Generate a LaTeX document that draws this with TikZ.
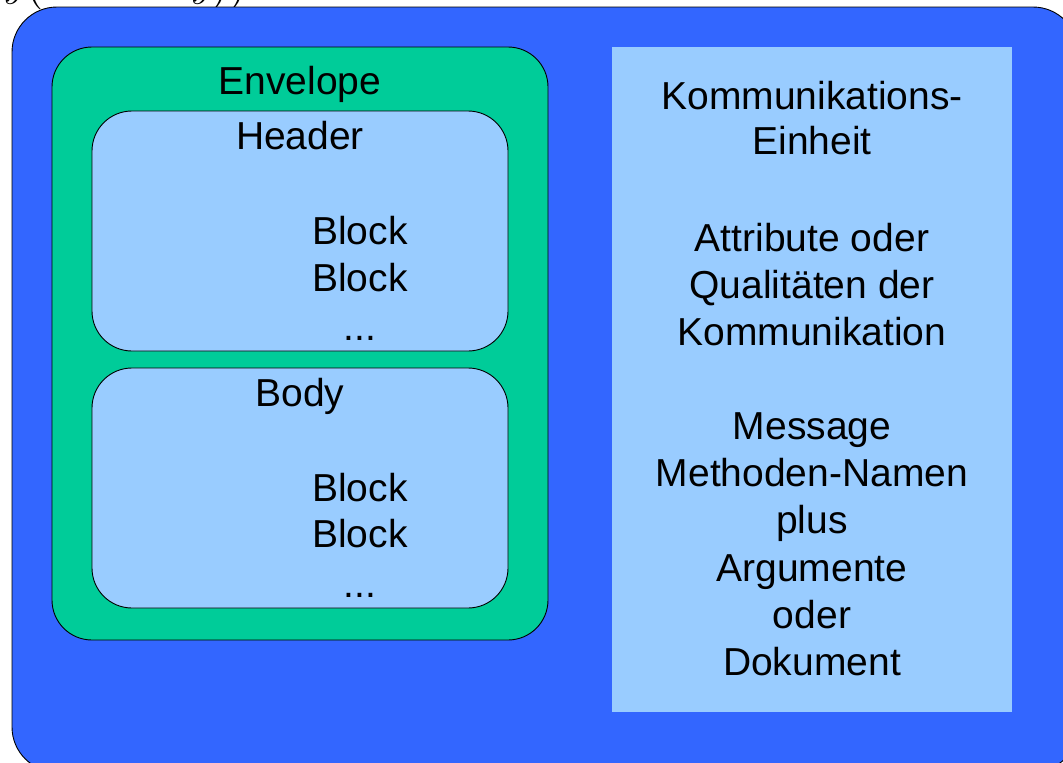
\documentclass[tikz,border=0pt]{standalone}
\usepackage{fontspec}
\setmainfont{Liberation Sans}
\definecolor{outerblue}{HTML}{3366FF}
\definecolor{envgreen}{HTML}{00CC99}
\definecolor{lightblue}{HTML}{99CCFF}
\tikzset{
  box/.style={draw=black, line width=0.9pt},
  txt/.style={anchor=base, inner sep=0pt, font=\fontsize{39}{47}\selectfont},
}
\begin{document}
\begin{tikzpicture}[x=1pt,y=-1pt]
\useasboundingbox (0,0) rectangle (1063,763);
\clip (0,0) rectangle (1063,763);
% clipped formula fragment at top
\node[anchor=base west, inner sep=0pt, scale=4] (frag) at (3,-4) {$y\bigl(\hspace{37pt}y\bigr)\bigr)$};
% outer box
\filldraw[box, fill=outerblue, rounded corners=45] (12,7) rectangle (1078,772);
% envelope
\filldraw[box, fill=envgreen, rounded corners=40] (52,47) rectangle (548,640);
\node[txt] (envelope) at (300,94) {Envelope};
% header
\filldraw[box, fill=lightblue, rounded corners=40] (92,111) rectangle (508,351);
\node[txt] (header) at (300,149) {Header};
\node[txt] (hb1) at (360,244) {Block};
\node[txt] (hb2) at (360,291) {Block};
\node[txt] (hb3) at (360,340) {...};
% body
\filldraw[box, fill=lightblue, rounded corners=40] (92,368) rectangle (508,608);
\node[txt] (body) at (300,406) {Body};
\node[txt] (bb1) at (360,501) {Block};
\node[txt] (bb2) at (360,547) {Block};
\node[txt] (bb3) at (360,597) {...};
% right panel
\fill[lightblue] (612,47) rectangle (1012,712);
\node[txt] (r1) at (812,109) {Kommunikations-};
\node[txt] (r2) at (812,154) {Einheit};
\node[txt] (r3) at (812,251) {Attribute oder};
\node[txt] (r4) at (812,298) {Qualitäten der};
\node[txt] (r5) at (812,345) {Kommunikation};
\node[txt] (r6) at (812,439) {Message};
\node[txt] (r7) at (812,486) {Methoden-Namen};
\node[txt] (r8) at (812,533) {plus};
\node[txt] (r9) at (812,581) {Argumente};
\node[txt] (r10) at (812,628) {oder};
\node[txt] (r11) at (812,675) {Dokument};
\end{tikzpicture}
\end{document}
